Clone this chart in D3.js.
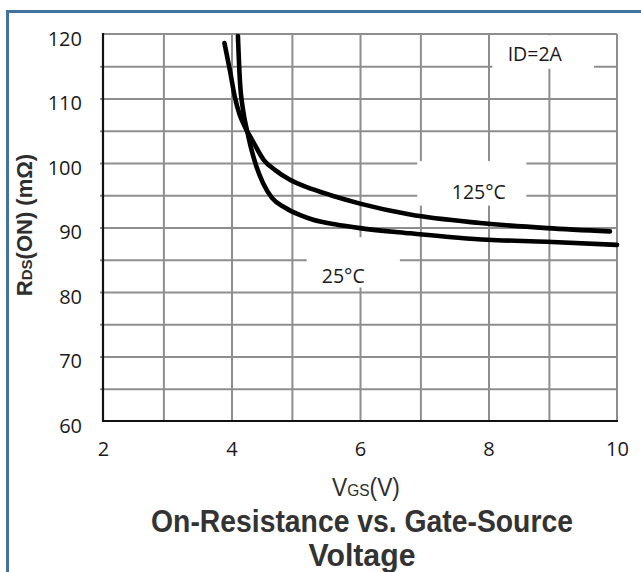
<!DOCTYPE html>
<html><head><meta charset="utf-8">
<script src="https://cdn.jsdelivr.net/npm/d3@7"></script>
<style>html,body{margin:0;padding:0;background:#fff;overflow:hidden}</style>
</head><body>
<svg id="c" width="641" height="572"></svg>
<script>
// ---- data ----
const xTicks = [2, 4, 6, 8, 10];
const yTicks = [60, 70, 80, 90, 100, 110, 120];
const xGrid = [2.94, 4, 4.94, 6, 6.94, 8, 8.94];
const yGrid = [65, 70, 75, 80, 85, 90, 95, 100, 105, 110, 115];
const vgs125 = [3.89, 3.98, 4.05, 4.13, 4.21, 4.32, 4.50, 4.68, 4.91, 5.27, 5.61, 6.00, 6.78, 7.87, 8.91, 9.89];
const rds125 = [118.6, 114.1, 110.3, 107.4, 105.6, 103.6, 100.5, 98.9, 97.4, 95.9, 94.8, 93.7, 92.0, 90.7, 89.9, 89.4];
const vgs25 = [4.10, 4.13, 4.18, 4.24, 4.30, 4.38, 4.49, 4.63, 4.83, 5.07, 5.27, 5.61, 6.00, 6.78, 7.99, 8.91, 10.0];
const rds25 = [119.7, 112.9, 108.2, 105.1, 102.5, 99.7, 96.9, 94.6, 93.1, 91.9, 91.2, 90.5, 89.9, 89.1, 88.1, 87.8, 87.3];
const labels = ["ID=2A", "125°C", "25°C"];

// ---- layout ----
const svg = d3.select("#c");
const L = 103, R = 617, T = 34, B = 421;
const x = d3.scaleLinear().domain([2, 10]).range([L, R]);
const y = d3.scaleLinear().domain([60, 120]).range([B, T]);

// blue frame
svg.append("rect").attr("x", 7.5).attr("y", 11.5).attr("width", 700).attr("height", 700)
  .attr("fill", "none").attr("stroke", "#44729f").attr("stroke-width", 3);

const gridCol = "#8e8e8e";
// grid via axes
svg.append("g").attr("transform", `translate(0,${B})`)
  .call(d3.axisBottom(x).tickValues(xGrid).tickSize(-(B - T)).tickFormat(""))
  .call(g => g.select(".domain").remove())
  .call(g => g.selectAll("line").attr("stroke", gridCol).attr("stroke-width", 2));
svg.append("g").attr("transform", `translate(${L},0)`)
  .call(d3.axisLeft(y).tickValues(yGrid).tickSize(-(R - L)).tickFormat(""))
  .call(g => g.select(".domain").remove())
  .call(g => g.selectAll("line").attr("stroke", gridCol).attr("stroke-width", 2).attr("x1", -3));

// frame lines
svg.append("line").attr("x1", L).attr("x2", R).attr("y1", y(120)).attr("y2", y(120)).attr("stroke", gridCol).attr("stroke-width", 2);
svg.append("line").attr("x1", x(10)).attr("x2", x(10)).attr("y1", T).attr("y2", B).attr("stroke", gridCol).attr("stroke-width", 2);
svg.append("line").attr("x1", L).attr("x2", L).attr("y1", T - 1).attr("y2", B + 1).attr("stroke", "#111").attr("stroke-width", 2.2);
svg.append("line").attr("x1", L - 1).attr("x2", R + 1).attr("y1", B).attr("y2", B).attr("stroke", "#111").attr("stroke-width", 2.2);

// tick labels
const tickFont = "'Open Sans', sans-serif";
svg.append("g").attr("transform", `translate(0,${B})`)
  .call(d3.axisBottom(x).tickValues(xTicks).tickSize(0).tickPadding(21))
  .call(g => g.select(".domain").remove())
  .call(g => g.selectAll("text").attr("font-family", tickFont).attr("font-size", 20).attr("fill", "#1a1a1a"));
svg.append("g").attr("transform", `translate(${L},0)`)
  .call(d3.axisLeft(y).tickValues(yTicks).tickSize(0).tickPadding(21))
  .call(g => g.select(".domain").remove())
  .call(g => g.selectAll("text").attr("font-family", tickFont).attr("font-size", 20).attr("fill", "#1a1a1a")
    .attr("dy", "0.36em").attr("transform", "translate(0,4)"));

// label boxes
function box(x0, x1, y0, y1) {
  svg.append("rect").attr("x", x(x0)).attr("y", y(y0)).attr("width", x(x1) - x(x0)).attr("height", y(y1) - y(y0)).attr("fill", "#fff");
}
box(8.06, 9.64, 119.8, 114.6);
box(6.89, 8.59, 100.3, 93.4);
box(5.17, 6.62, 88.5, 80.7);

function lab(t, cx, base) {
  svg.append("text").attr("x", x(cx)).attr("y", y(base)).attr("text-anchor", "middle")
    .attr("font-family", tickFont).attr("font-size", 19.5).attr("fill", "#1a1a1a").text(t);
}
lab(labels[0], 8.72, 115.8);
lab(labels[1], 7.85, 94.4);
lab(labels[2], 5.74, 81.4);

// curves
const line = d3.line().x(d => x(d[0])).y(d => y(d[1])).curve(d3.curveMonotoneX);
[[vgs125, rds125], [vgs25, rds25]].forEach(([vx, vy]) => {
  svg.append("path").attr("d", line(vx.map((v, i) => [v, vy[i]])))
    .attr("fill", "none").attr("stroke", "#000").attr("stroke-width", 4.6).attr("stroke-linecap", "round");
});

// axis titles
function fitText(sel, w) {
  const bb = sel.node().getBBox();
  const cx = bb.x + bb.width / 2;
  sel.attr("transform", `translate(${cx},0) scale(${w / bb.width},1) translate(${-cx},0)`);
}
const xt = svg.append("text").attr("x", 366).attr("y", 496).attr("text-anchor", "middle")
  .attr("font-family", "'Liberation Sans', Arial, sans-serif").attr("font-size", 25).attr("fill", "#2e2e2e");
xt.append("tspan").text("V");
xt.append("tspan").attr("font-size", 17).text("GS");
xt.append("tspan").text("(V)");
fitText(xt, 68);

const yt = svg.append("text").attr("transform", "translate(32,225) rotate(-90)").attr("text-anchor", "middle")
  .attr("font-family", "'Liberation Sans', Arial, sans-serif").attr("font-size", 22).attr("font-weight", "bold").attr("fill", "#2e2e2e");
yt.append("tspan").text("R");
yt.append("tspan").attr("font-size", 15).text("DS");
yt.append("tspan").text("(ON) (mΩ)");

const t1 = svg.append("text").attr("x", 362).attr("y", 532).attr("text-anchor", "middle")
  .attr("font-family", "'Liberation Sans', Arial, sans-serif").attr("font-size", 31).attr("font-weight", "bold").attr("fill", "#333")
  .text("On-Resistance vs. Gate-Source");
fitText(t1, 422);
const t2 = svg.append("text").attr("x", 362).attr("y", 566).attr("text-anchor", "middle")
  .attr("font-family", "'Liberation Sans', Arial, sans-serif").attr("font-size", 31).attr("font-weight", "bold").attr("fill", "#333")
  .text("Voltage");
fitText(t2, 107);
</script>
</body></html>
